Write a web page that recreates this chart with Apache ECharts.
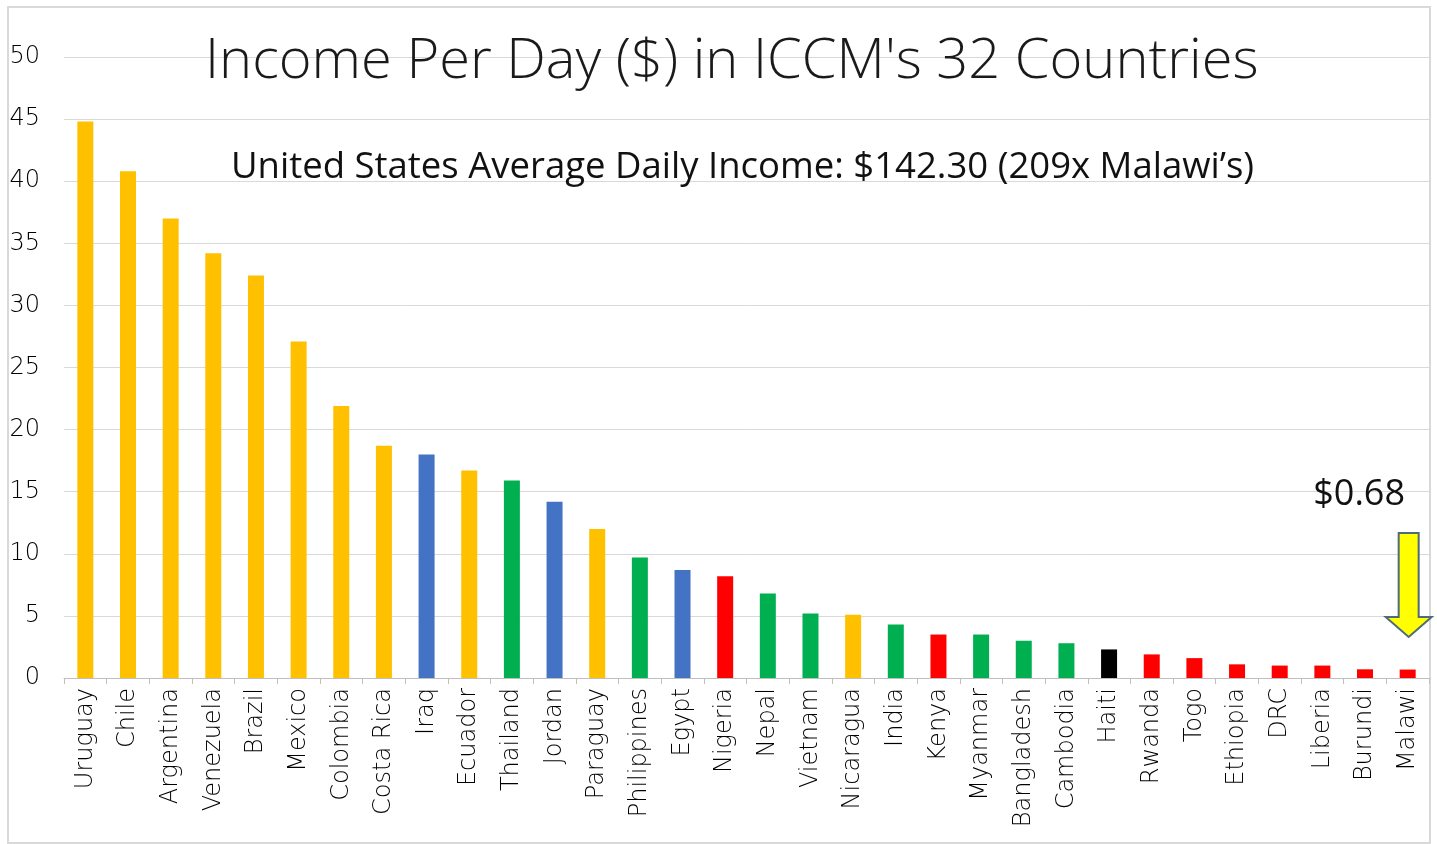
<!DOCTYPE html>
<html>
<head>
<meta charset="utf-8">
<script src="https://cdn.jsdelivr.net/npm/echarts@6/dist/echarts.min.js"></script>
<style>
  html, body { margin: 0; padding: 0; background: #fff; }
  #chart { width: 1437px; height: 844px; }
</style>
</head>
<body>
<div id="chart"></div>
<script>
// income per day, ICCM countries
const countries = ['Uruguay', 'Chile', 'Argentina', 'Venezuela', 'Brazil', 'Mexico', 'Colombia', 'Costa Rica',
  'Iraq', 'Ecuador', 'Thailand', 'Jordan', 'Paraguay', 'Philippines', 'Egypt', 'Nigeria', 'Nepal', 'Vietnam',
  'Nicaragua', 'India', 'Kenya', 'Myanmar', 'Bangladesh', 'Cambodia', 'Haiti', 'Rwanda', 'Togo', 'Ethiopia',
  'DRC', 'Liberia', 'Burundi', 'Malawi'];
const incomePerDay = [44.8, 40.8, 37.0, 34.2, 32.4, 27.1, 21.9, 18.7, 18.0, 16.7, 15.9, 14.2, 12.0, 9.7, 8.7, 8.2,
  6.8, 5.2, 5.1, 4.3, 3.5, 3.5, 3.0, 2.8, 2.3, 1.9, 1.6, 1.1, 1.0, 1.0, 0.7, 0.68];
// region group per country
const regions = ['am', 'am', 'am', 'am', 'am', 'am', 'am', 'am', 'me', 'am', 'as', 'me', 'am', 'as', 'me', 'af',
  'as', 'as', 'am', 'as', 'af', 'as', 'as', 'as', 'hi', 'af', 'af', 'af', 'af', 'af', 'af', 'af'];
const regionColors = { am: '#FFC000', me: '#4472C4', as: '#00B050', af: '#FF0000', hi: '#000000' };
const yTicks = [0, 5, 10, 15, 20, 25, 30, 35, 40, 45, 50];

const chart = echarts.init(document.getElementById('chart'));

const option = {
  animation: false,
  title: [
    {
      text: "Income Per Day ($) in ICCM's 32 Countries",
      left: 200, top: 29,
      textStyle: { fontFamily: 'Open Sans', fontSize: 56, fontWeight: 300, color: '#1a1a1a' }
    },
    {
      text: 'United States Average Daily Income: $142.30 (209x Malawi\u2019s)',
      left: 226, top: 144,
      textStyle: { fontFamily: 'Open Sans', fontSize: 36.5, fontWeight: 'normal', color: '#111' }
    },
    {
      text: '$0.68',
      right: 27, top: 472,
      textStyle: { fontFamily: 'Open Sans', fontSize: 36, fontWeight: 'normal', color: '#111' }
    }
  ],
  grid: { left: 64, right: 8, top: 57, bottom: 166 },
  xAxis: {
    type: 'category',
    data: countries,
    axisLine: { lineStyle: { color: '#bfbfbf' } },
    axisTick: { show: true, length: 6, lineStyle: { color: '#bfbfbf' } },
    axisLabel: { rotate: 90, interval: 0, margin: 10, fontFamily: 'DejaVu Sans', fontWeight: 200, fontSize: 24, color: '#000' }
  },
  yAxis: {
    type: 'value',
    min: yTicks[0], max: yTicks[yTicks.length - 1], interval: 5,
    axisLine: { show: false },
    axisTick: { show: false },
    splitLine: { lineStyle: { color: '#d9d9d9' } },
    axisLabel: { margin: 24, fontFamily: 'DejaVu Sans', fontWeight: 200, fontSize: 24, color: '#000' }
  },
  series: [{
    type: 'bar',
    barWidth: 16,
    data: incomePerDay.map((v, i) => ({ value: v, itemStyle: { color: regionColors[regions[i]] } }))
  }]
};
chart.setOption(option);

// yellow arrow pointing at Malawi, placed from the axis scale
const last = countries.length - 1;
const base = chart.convertToPixel({ gridIndex: 0 }, [last, 0]);
const cx = base[0] + 1;
const pts = [
  [cx - 10, 533], [cx + 10, 533], [cx + 10, 617], [cx + 23, 617],
  [cx, 637], [cx - 23, 617], [cx - 10, 617]
];
chart.setOption({
  graphic: [
    {
      type: 'rect', silent: true,
      shape: { x: 8, y: 7, width: 1422, height: 836 },
      style: { fill: 'none', stroke: '#d9d9d9', lineWidth: 2 }
    },
    {
      type: 'polygon', silent: true,
      shape: { points: pts },
      style: { fill: '#FFFF00', stroke: '#4f6a7a', lineWidth: 2 }
    }
  ]
});
</script>
</body>
</html>
